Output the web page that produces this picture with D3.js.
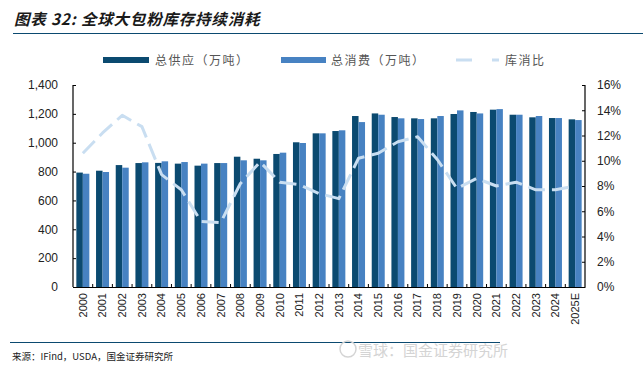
<!DOCTYPE html>
<html>
<head>
<meta charset="utf-8">
<script src="https://cdn.jsdelivr.net/npm/d3@7"></script>
<style>
body { margin: 0; background: #fff; }
svg { display: block; }
</style>
</head>
<body>
<div id="widget"></div>
<script>
// categories and series
var years = ["2000","2001","2002","2003","2004","2005","2006","2007","2008","2009","2010","2011","2012",
	"2013","2014","2015","2016","2017","2018","2019","2020","2021","2022","2023","2024","2025E"];
var supply = [793, 806, 845, 859, 860, 855, 841, 859, 903, 889, 922, 1003, 1065,
	1081, 1185, 1203, 1178, 1169, 1169, 1199, 1213, 1229, 1194, 1176, 1171, 1162];
var consumption = [785, 797, 827, 864, 871, 866, 855, 859, 878, 878, 931, 998, 1065,
	1086, 1143, 1194, 1169, 1164, 1185, 1224, 1203, 1233, 1194, 1185, 1171, 1157];
var ratio = [10.6, 12.2, 13.6, 12.7, 8.9, 7.7, 5.2, 5.1, 8.2, 9.9, 8.3, 8.1, 7.4,
	7.0, 10.2, 10.6, 11.5, 11.9, 10.1, 7.8, 8.6, 8.0, 8.3, 7.7, 7.7, 8.0];
var leftTicks = [0, 200, 400, 600, 800, 1000, 1200, 1400];
var rightTicks = [0, 2, 4, 6, 8, 10, 12, 14, 16];
var legendNames = ["总供应（万吨）", "总消费（万吨）", "库消比"];

var W = 643, H = 369;
var cjk = "'Noto Sans CJK SC', sans-serif";
var darkBlue = "#0b4a70", midBlue = "#4782c2", lineBlue = "#c9def1";

var svg = d3.select("#widget")
	.append("svg")
	.attr("width", W)
	.attr("height", H);

// title and rules
svg.append("text")
	.attr("x", 14)
	.attr("y", 25)
	.attr("font-family", cjk)
	.attr("font-size", "15.5px")
	.attr("font-weight", "bold")
	.attr("font-style", "italic")
	.attr("letter-spacing", "0.8px")
	.attr("fill", "#1a1a1a")
	.text("图表 32: 全球大包粉库存持续消耗");

svg.append("line")
	.attr("x1", 13).attr("x2", W)
	.attr("y1", 33.5).attr("y2", 33.5)
	.attr("stroke", darkBlue)
	.attr("stroke-width", 1.2);

svg.append("line")
	.attr("x1", 10).attr("x2", 500)
	.attr("y1", 342.5).attr("y2", 342.5)
	.attr("stroke", darkBlue)
	.attr("stroke-width", 1);

svg.append("text")
	.attr("x", 12)
	.attr("y", 360)
	.attr("font-family", cjk)
	.attr("font-size", "9.5px")
	.attr("fill", "#222")
	.text("来源：IFind，USDA，国金证券研究所");

// watermark
svg.append("circle")
	.attr("cx", 348).attr("cy", 349).attr("r", 8)
	.attr("fill", "none").attr("stroke", "#d4d4d4").attr("stroke-width", 1.5);
svg.append("text")
	.attr("x", 508)
	.attr("y", 356)
	.attr("text-anchor", "end")
	.attr("font-family", cjk)
	.attr("font-size", "15px")
	.attr("fill", "#d4d4d4")
	.text("雪球：国金证券研究所");

// scales
var x0 = 73, x1 = 585, yTop = 85, yBot = 287;
var x = d3.scaleBand().domain(years).range([x0, x1]).paddingInner(0.34).paddingOuter(0.17);
var sub = d3.scaleBand().domain(["s", "c"]).range([0, x.bandwidth()]);
var yL = d3.scaleLinear().domain([0, 1400]).range([yBot, yTop]);
var yR = d3.scaleLinear().domain([0, 16]).range([yBot, yTop]);

// bars
var g = svg.append("g");
g.selectAll("rect.s")
	.data(supply)
	.enter()
	.append("rect")
	.attr("class", "s")
	.attr("x", function(d, i) { return x(years[i]) + sub("s"); })
	.attr("y", function(d) { return yL(d); })
	.attr("width", sub.bandwidth())
	.attr("height", function(d) { return yBot - yL(d); })
	.attr("fill", darkBlue);

g.selectAll("rect.c")
	.data(consumption)
	.enter()
	.append("rect")
	.attr("class", "c")
	.attr("x", function(d, i) { return x(years[i]) + sub("c"); })
	.attr("y", function(d) { return yL(d); })
	.attr("width", sub.bandwidth())
	.attr("height", function(d) { return yBot - yL(d); })
	.attr("fill", midBlue);

// ratio line
var line = d3.line()
	.x(function(d, i) { return x(years[i]) + x.bandwidth() / 2; })
	.y(function(d) { return yR(d); })
	.curve(d3.curveLinear);

svg.append("path")
	.datum(ratio)
	.attr("d", line)
	.attr("fill", "none")
	.attr("stroke", lineBlue)
	.attr("stroke-width", 3)
	.attr("stroke-linejoin", "round")
	.attr("stroke-dasharray", "17,7");

// axes
var axisL = d3.axisLeft(yL).tickValues(leftTicks).tickSize(-3).tickPadding(15)
	.tickFormat(d3.format(","));
var axisR = d3.axisRight(yR).tickValues(rightTicks).tickSize(-3).tickPadding(12)
	.tickFormat(function(d) { return d + "%"; });
var axisB = d3.axisBottom(x).tickSize(0).tickPadding(6);

var gl = svg.append("g").attr("transform", "translate(" + x0 + ",0)").call(axisL);
var gr = svg.append("g").attr("transform", "translate(" + x1 + ",0)").call(axisR);
var gb = svg.append("g").attr("transform", "translate(0," + yBot + ")").call(axisB);

[gl, gr, gb].forEach(function(a) {
	a.select(".domain").attr("stroke", "#000").attr("stroke-width", 1.2);
	a.selectAll(".tick line").attr("stroke", "#000");
	a.selectAll("text")
		.attr("font-family", "'Liberation Sans', Arial, sans-serif")
		.attr("font-size", "12px")
		.attr("fill", "#222");
});
gl.select(".domain").attr("d", "M0," + yTop + "V" + yBot);
gr.select(".domain").attr("d", "M0," + yTop + "V" + yBot);

gb.selectAll(".tick text")
	.attr("font-size", "11px")
	.attr("transform", "rotate(-90)")
	.attr("text-anchor", "end")
	.attr("dy", "0.35em")
	.attr("x", -6)
	.attr("y", 0);

// small boundary ticks under the x axis
var step = x.step();
svg.append("g").selectAll("line")
	.data(years.slice(1))
	.enter()
	.append("line")
	.attr("x1", function(d) { return x(d) - step * 0.17; })
	.attr("x2", function(d) { return x(d) - step * 0.17; })
	.attr("y1", yBot)
	.attr("y2", yBot - 3)
	.attr("stroke", "#000");

// legend
var lg = svg.append("g").attr("font-family", cjk).attr("font-size", "12px")
	.attr("letter-spacing", "1.5px").attr("fill", "#555");
lg.append("rect").attr("x", 103).attr("y", 57).attr("width", 46).attr("height", 6).attr("fill", darkBlue);
lg.append("text").attr("x", 155).attr("y", 64.5).text(legendNames[0]);
lg.append("rect").attr("x", 281).attr("y", 57).attr("width", 45).attr("height", 6).attr("fill", midBlue);
lg.append("text").attr("x", 331).attr("y", 64.5).text(legendNames[1]);
lg.append("line").attr("x1", 456).attr("x2", 499).attr("y1", 60).attr("y2", 60)
	.attr("stroke", lineBlue).attr("stroke-width", 3).attr("stroke-dasharray", "16,20");
lg.append("text").attr("x", 505).attr("y", 64.5).text(legendNames[2]);
</script>
</body>
</html>
